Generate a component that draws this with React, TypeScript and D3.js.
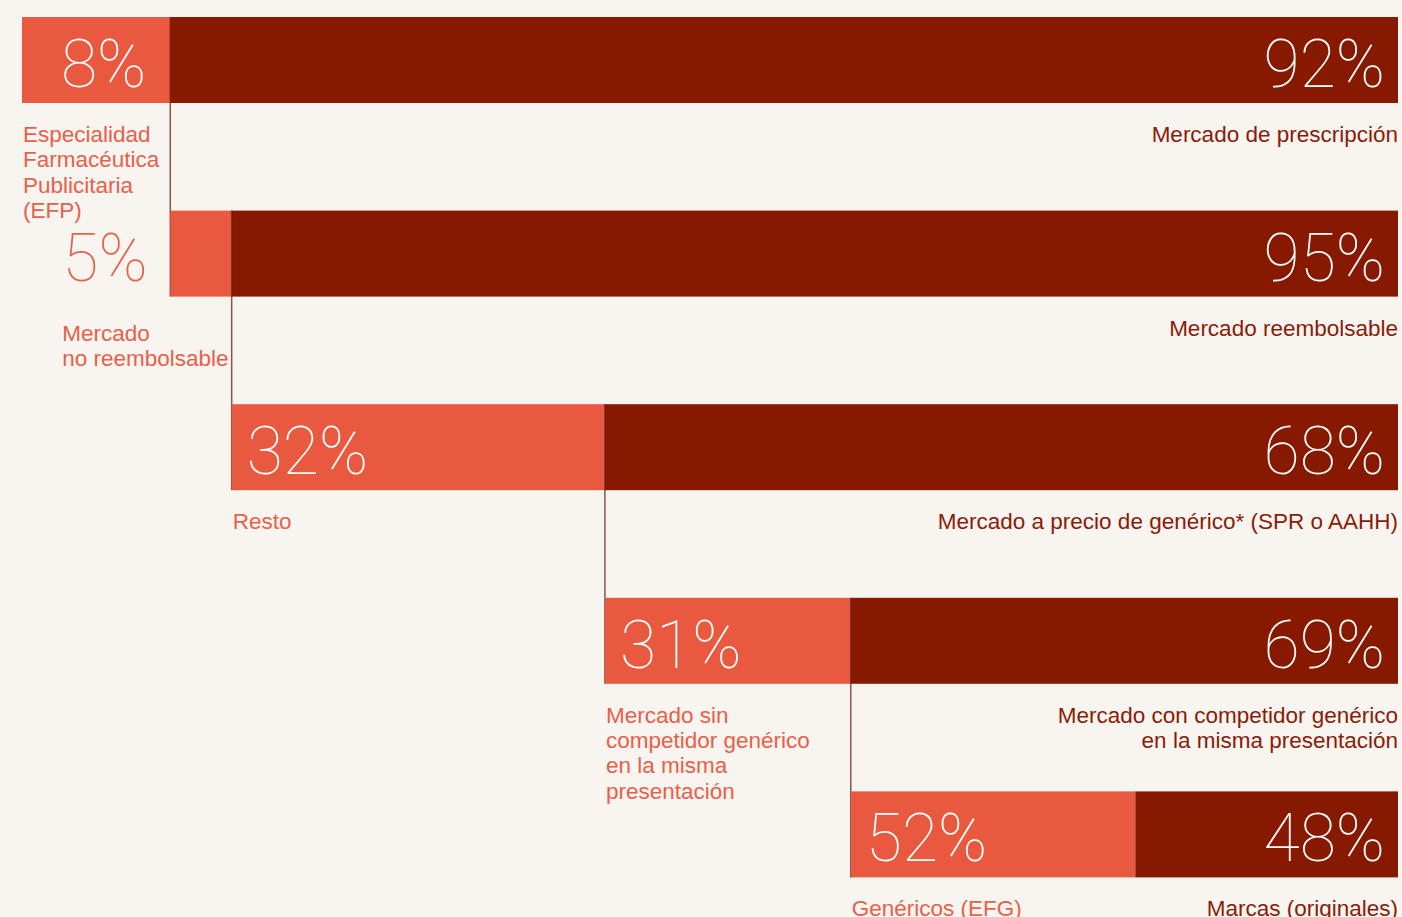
import React from "react";
import * as d3 from "d3";

// ---- data ----
const lightShares = [8, 5, 32, 31, 52];
const darkShares = [92, 95, 68, 69, 48];
const lightLabels: string[][] = [
  ["Especialidad", "Farmacéutica", "Publicitaria", "(EFP)"],
  ["Mercado", "no reembolsable"],
  ["Resto"],
  ["Mercado sin", "competidor genérico", "en la misma", "presentación"],
  ["Genéricos (EFG)"],
];
const darkLabels: string[][] = [
  ["Mercado de prescripción"],
  ["Mercado reembolsable"],
  ["Mercado a precio de genérico* (SPR o AAHH)"],
  ["Mercado con competidor genérico", "en la misma presentación"],
  ["Marcas (originales)"],
];

// ---- style ----
const W = 1402;
const H = 917;
const BG = "#F8F5F0";
const LIGHT = "#E8593F";
const DARK = "#861900";
const LIGHT_TEXT = "#E8604A";
const DARK_TEXT = "#8A1C08";
const X0 = 22;
const X1 = 1398;
const TOP0 = 17;
const ROW_STEP = 193.6;
const BAR_H = 86;
const PCT_SIZE = 66;
const LBL_SIZE = 22.5;
const PCT_FONT = "Roboto, 'Liberation Sans', sans-serif";
const LBL_FONT = "'Liberation Sans', Arial, sans-serif";

function textWidth(lines: string[]): number {
  if (typeof document === "undefined") return 0;
  const ctx = document.createElement("canvas").getContext("2d");
  if (!ctx) return 0;
  ctx.font = `${LBL_SIZE}px ${LBL_FONT}`;
  return d3.max(lines, (l) => ctx.measureText(l).width) || 0;
}

export default function App() {
  // cascade: each row starts where the previous row's light segment ends.
  // A narrow light segment whose label sits beneath it is widened so that
  // the label fits left of the connector line.
  const rows: {
    start: number;
    split: number;
    top: number;
    end: number;
    labelUnder: boolean;
  }[] = [];
  let start = X0;
  lightShares.forEach((v, i) => {
    const x = d3.scaleLinear().domain([0, 100]).range([start, X1]);
    let split = x(v);
    const labelUnder = i !== 1;
    if (labelUnder) {
      split = Math.max(split, start + textWidth(lightLabels[i]) + 12);
    }
    rows.push({ start, split, top: TOP0 + i * ROW_STEP, end: x(100), labelUnder });
    start = split;
  });

  return (
    <svg
      width={W}
      height={H}
      style={{ position: "fixed", left: 0, top: 0, display: "block", background: BG }}
    >
      <rect x={0} y={0} width={W} height={H} fill={BG} />
      {rows.map((r, i) => {
        const width = r.split - r.start;
        const inside = width > 100;
        const wide = width > 200;
        const bottom = r.top + BAR_H;
        const next = rows[i + 1];
        const labelX = r.labelUnder ? r.start + 1 : r.start - 108;
        return (
          <g key={i}>
            <rect x={r.start} y={r.top} width={width} height={BAR_H} fill={LIGHT} />
            <rect x={r.split} y={r.top} width={r.end - r.split} height={BAR_H} fill={DARK} />
            {next && (
              <line
                x1={r.split}
                x2={r.split}
                y1={r.top}
                y2={next.top + BAR_H}
                stroke="#6B1E12"
                strokeOpacity={0.75}
                strokeWidth={1.5}
              />
            )}
            {/* light percentage */}
            <text
              x={inside ? (wide ? r.start + 15 : r.split - 24) : labelX}
              y={r.top + 70}
              textAnchor={inside && !wide ? "end" : "start"}
              fill={inside ? "#FFFFFF" : LIGHT_TEXT}
              fontFamily={PCT_FONT}
              fontWeight={100}
              fontSize={PCT_SIZE}
            >
              {lightShares[i]}%
            </text>
            {/* dark percentage */}
            <text
              x={r.end - 13}
              y={r.top + 70}
              textAnchor="end"
              fill="#FFFFFF"
              fontFamily={PCT_FONT}
              fontWeight={100}
              fontSize={PCT_SIZE}
            >
              {darkShares[i]}%
            </text>
            {/* light sub-label */}
            <text
              x={labelX}
              y={bottom + (r.labelUnder ? 39 : 44)}
              fill={LIGHT_TEXT}
              fontFamily={LBL_FONT}
              fontSize={LBL_SIZE}
            >
              {lightLabels[i].map((t, k) => (
                <tspan key={k} x={labelX} dy={k === 0 ? 0 : 25.3}>
                  {t}
                </tspan>
              ))}
            </text>
            {/* dark sub-label */}
            <text
              x={X1}
              y={bottom + 39}
              textAnchor="end"
              fill={DARK_TEXT}
              fontFamily={LBL_FONT}
              fontSize={LBL_SIZE}
            >
              {darkLabels[i].map((t, k) => (
                <tspan key={k} x={X1} dy={k === 0 ? 0 : 25.3}>
                  {t}
                </tspan>
              ))}
            </text>
          </g>
        );
      })}
    </svg>
  );
}
